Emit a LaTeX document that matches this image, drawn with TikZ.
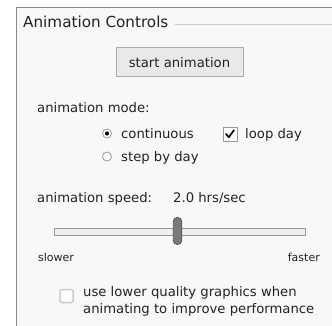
\documentclass[tikz,border=0pt]{standalone}
\usepackage{fontspec}
\setmainfont{DejaVu Sans}
\definecolor{panelbg}{HTML}{F8F8F8}
\definecolor{framecol}{HTML}{8A8A8A}
\definecolor{legendline}{HTML}{CCCCCC}
\definecolor{txt}{HTML}{222222}
\definecolor{btnfill}{HTML}{E9E9E9}
\definecolor{btnline}{HTML}{ABABAB}
\definecolor{trackfill}{HTML}{EEEEEE}
\definecolor{trackline}{HTML}{999999}
\definecolor{thumbfill}{HTML}{7A7A7A}
\definecolor{thumbline}{HTML}{555555}
\tikzset{
  label/.style={anchor=base west, inner sep=0pt, text=txt, font=\fontsize{13.2}{16}\selectfont},
  smalllabel/.style={anchor=base west, inner sep=0pt, text=txt, font=\fontsize{11}{13}\selectfont},
  titlelabel/.style={anchor=base west, inner sep=0pt, text=txt, font=\fontsize{15.2}{18}\selectfont},
  button/.style={draw=btnline, fill=btnfill, line width=1pt, minimum width=127pt, minimum height=29pt, inner sep=0pt, text=txt, font=\fontsize{13.2}{16}\selectfont},
  radio/.style={circle, draw=trackline, fill=white, line width=0.8pt, minimum size=9pt, inner sep=0pt},
  tickbox/.style={draw=trackline, fill=white, line width=0.8pt, minimum size=14pt, inner sep=0pt},
  softbox/.style={draw=legendline, fill=white, line width=1.5pt, rounded corners=1.5pt, minimum size=13pt, inner sep=0pt},
}
\begin{document}
\begin{tikzpicture}[x=1pt, y=-1pt]
\useasboundingbox (0,0) rectangle (332,326);
\fill[white] (0,0) rectangle (332,326);
% panel with its frame
\fill[panelbg] (16,7) rectangle (332,326);
\draw[framecol, line width=1.3pt] (16.7,326) -- (16.7,7.7) -- (332,7.7);
\node[titlelabel] (title) at (23,27.5) {Animation Controls};
\coordinate (legendend) at (332,24);
\draw[legendline, line width=0.8pt] ([xshift=6pt]title.east |- legendend) -- (legendend);

% start button
\node[button] (start) at (179.5,62.5) {start animation};

% animation mode
\node[label] (modelbl) at (37,113) {animation mode:};
\node[radio] (radcont) at (107,133.5) {};
\fill (radcont.center) circle (2.1pt);
\node[label] (cont) at (121,138.5) {continuous};
\node[radio] (radstep) at (107,156.5) {};
\node[label] (step) at (121,161.5) {step by day};
\node[tickbox] (loopbox) at (230,134) {};
\draw[black, line width=1.7pt, line cap=round, line join=round]
  ([shift={(-4,0)}]loopbox.center) -- ([shift={(-1.2,3.2)}]loopbox.center) -- ([shift={(4,-3.8)}]loopbox.center);
\node[label] (loop) at (245,138.5) {loop day};

% animation speed
\node[label] (speedlbl) at (37,202) {animation speed:};
\node[label] (speedval) at (173,202) {2.0 hrs/sec};
\draw[trackline, fill=trackfill, line width=0.8pt] (54.5,228.5) rectangle (305,235) coordinate (trackend);
\node[draw=thumbline, fill=thumbfill, line width=0.8pt, rounded corners=4pt, minimum width=8.5pt, minimum height=27pt, inner sep=0pt] (thumb) at (177.5,231) {};
\node[smalllabel] (slower) at (38,261) {slower};
\node[smalllabel, anchor=base east] (faster) at (320,261) {faster};

% graphics quality option
\node[softbox] (qualbox) at (66.5,296) {};
\node[label] (qual1) at (83,296) {use lower quality graphics when};
\node[label] (qual2) at (83,313) {animating to improve performance};
\end{tikzpicture}
\end{document}
